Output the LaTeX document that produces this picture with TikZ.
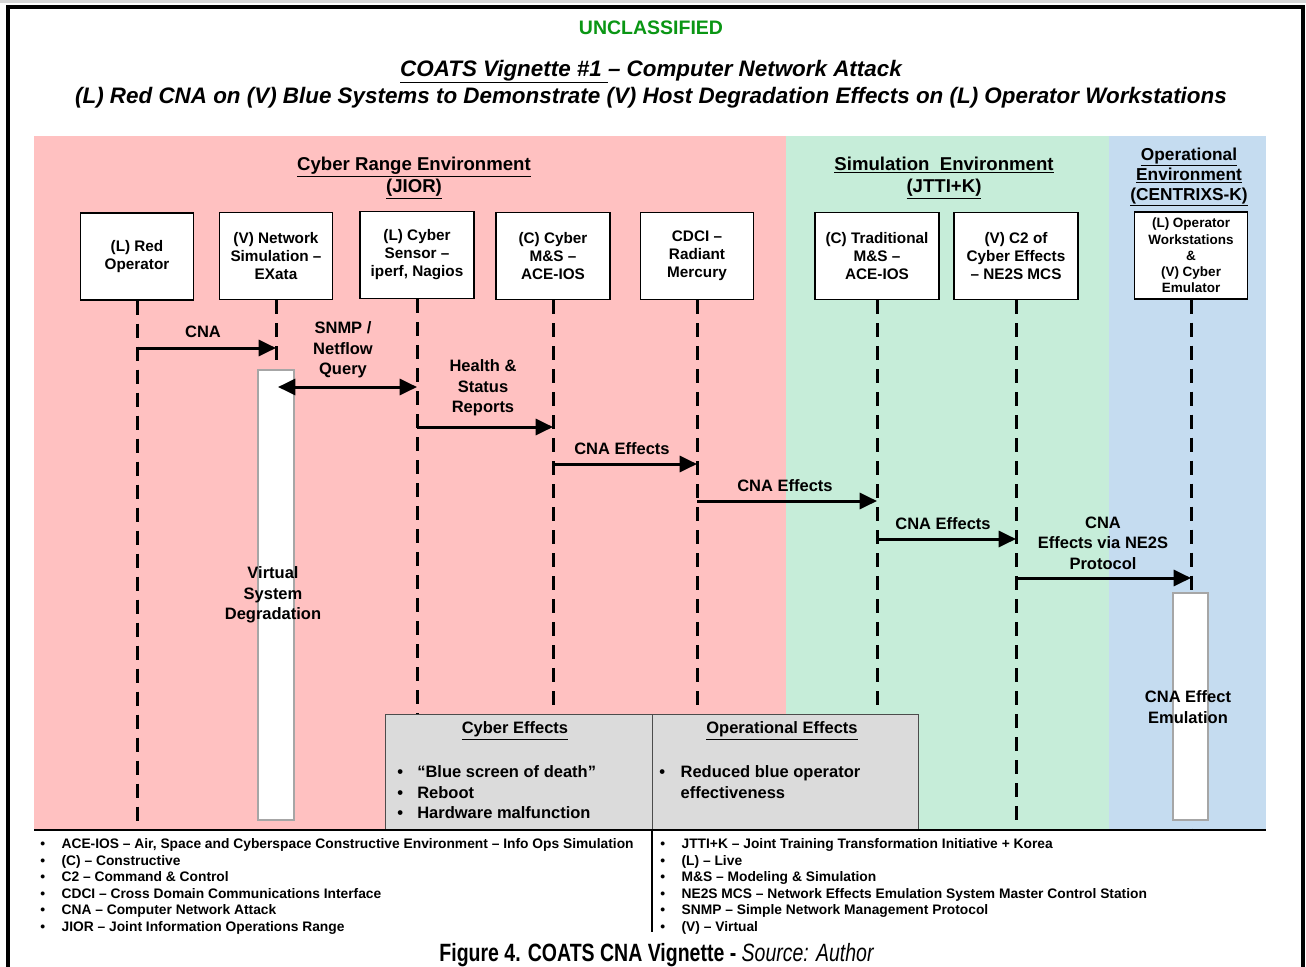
\documentclass[tikz,border=0pt]{standalone}
\usepackage{fontspec}
\setmainfont{Liberation Sans}
\newfontfamily\capfont[FakeStretch=0.78]{Liberation Sans}
\usetikzlibrary{arrows.meta}
% font size and baseline skip given in pixels (1px = 0.75pt)
\newcommand\pxf[2]{\fontsize{\fpeval{#1*0.75}pt}{\fpeval{#2*0.75}pt}\selectfont}
\newcommand\blt{\makebox[15pt][l]{\textbullet}}
\newcommand\lblt{\makebox[16pt][l]{\textbullet}}
\definecolor{rangebg}{RGB}{255,193,193}
\definecolor{simbg}{RGB}{198,237,217}
\definecolor{opbg}{RGB}{197,220,240}
\definecolor{effbg}{RGB}{219,219,219}
\definecolor{unclass}{RGB}{10,150,20}
\definecolor{topstrip}{RGB}{214,214,214}
\begin{document}
\begin{tikzpicture}[x=0.75pt,y=-0.75pt,
  hostbox/.style={draw, line width=1.1pt, fill=white, align=center, inner sep=0pt,
    minimum height=65pt, minimum width=84.75pt, font=\bfseries\pxf{15.3}{18}},
  lifeline/.style={line width=2.25pt, dash pattern=on 10.5pt off 6.75pt},
  msg/.style={line width=2.25pt, -{Triangle[length=13pt,width=12pt]}},
  msgboth/.style={line width=2.25pt, {Triangle[length=13pt,width=12pt]}-{Triangle[length=13pt,width=12pt]}},
  lbl/.style={align=center, inner sep=0pt, font=\bfseries\pxf{16.5}{20.5}},
  hdr/.style={align=center, inner sep=0pt, font=\bfseries\pxf{18.6}{22}},
  actbar/.style={draw=black!35, line width=0.8pt, fill=white},
  effpanel/.style={draw=black!70, line width=0.8pt, fill=effbg, anchor=north west,
    minimum height=87pt, inner sep=0pt},
  legend/.style={anchor=north west, align=left, inner sep=0pt, font=\bfseries\pxf{13.8}{16.5}},
]
\useasboundingbox (0,0) rectangle (1306,967);
\fill[white] (0,0) rectangle (1306,967);
\fill[topstrip] (0,0) rectangle (1306,2.5);
% page frame, open at the bottom
\draw[line width=2.3pt] (8,967) -- (8,7) -- (1303,7) -- (1303,967);

% environment bands
\fill[rangebg] (34,136) rectangle (786,830);
\fill[simbg] (786,136) rectangle (1109,830);
\fill[opbg] (1109,136) rectangle (1266,830);

% headings
\node[font=\bfseries\pxf{19.5}{22}, text=unclass, anchor=base] (uncl) at (651,34) {UNCLASSIFIED};
\node[font=\bfseries\itshape\pxf{22.4}{26}, anchor=base] (t1) at (651,76)
  {\underline{COATS Vignette \#1\ }– Computer Network Attack};
\node[font=\bfseries\itshape\pxf{22.4}{26}, anchor=base] (t2) at (651,103)
  {(L) Red CNA on (V) Blue Systems to Demonstrate (V) Host Degradation Effects on (L) Operator Workstations};

\node[hdr] (hrange) at (414,178) {\underline{Cyber Range Environment}\\\underline{(JIOR)}};
\node[hdr] (hsim) at (944,178) {\underline{Simulation\ \ Environment}\\\underline{(JTTI+K)}};
\node[hdr, font=\bfseries\pxf{17.3}{20}] (hop) at (1189,177)
  {\underline{Operational}\\\underline{Environment}\\\underline{(CENTRIXS-K)}};

% participants
\node[hostbox] (ro) at (137,256.5) {(L) Red\\Operator};
\node[hostbox] (ns) at (276,256) {(V) Network\\Simulation –\\EXata};
\node[hostbox, minimum width=85.5pt] (cs) at (417,255) {(L) Cyber\\Sensor –\\iperf, Nagios};
\node[hostbox, minimum width=85.5pt] (cm) at (553,256) {(C) Cyber\\M\&S –\\ACE-IOS};
\node[hostbox] (cd) at (697,256) {CDCI –\\Radiant\\Mercury};
\node[hostbox, minimum width=93pt] (tm) at (877,256) {(C) Traditional\\M\&S –\\ACE-IOS};
\node[hostbox, minimum width=93pt] (c2) at (1016,256) {(V) C2 of\\Cyber Effects\\– NE2S MCS};
\node[hostbox, font=\bfseries\pxf{13.5}{16.3}] (ow) at (1191,255.5)
  {(L) Operator\\Workstations\\\&\\(V) Cyber\\Emulator};

% lifelines
\foreach \p in {ro,ns,cs,cm,cd,tm,c2,ow}
  \draw[lifeline] (\p.south) -- (\p.south |- 0,830);

% activation bars
\fill[actbar] (258,370) rectangle (294,820);
\draw[actbar] (258,370) rectangle (294,820);
\fill[actbar] (1173,593) rectangle (1208,820);
\draw[actbar] (1173,593) rectangle (1208,820);

% messages
\draw[msg] (ro |- 0,348) -- (ns |- 0,348);
\node[lbl] (lcna) at (203,332) {CNA};
\draw[msgboth] ([xshift=1.5pt]ns |- 0,387) -- (cs |- 0,387);
\node[lbl] (lsnmp) at (343,350) {SNMP /\\Netflow\\Query};
\draw[msg] (cs |- 0,427) -- (cm |- 0,427);
\node[lbl] (lhealth) at (483,388) {Health \&\\Status\\Reports};
\draw[msg] (cm |- 0,464) -- (cd |- 0,464);
\node[lbl] (le1) at (622,449) {CNA Effects};
\draw[msg] (cd |- 0,501) -- (tm |- 0,501);
\node[lbl] (le2) at (785,486) {CNA Effects};
\draw[msg] (tm |- 0,539) -- (c2 |- 0,539);
\node[lbl] (le3) at (943,524) {CNA Effects};
\draw[msg] (c2 |- 0,578) -- (ow |- 0,578);
\node[lbl] (le4) at (1103,543) {CNA\\Effects via NE2S\\Protocol};

\node[lbl] (lvirt) at (273,595) {Virtual\\System\\Degradation};
\node[lbl] (lemul) at (1188,707) {CNA Effect\\Emulation};

% effects panels
\node[effpanel, minimum width=200.25pt] (cyeff) at (385,714) {};
\node[effpanel, minimum width=199.5pt] (opeff) at (652,714) {};
\node[lbl] (hcy) at (515,731) {\underline{Cyber Effects}};
\node[lbl] (hopf) at (782,731) {\underline{Operational Effects}};
\node[lbl, align=left, anchor=west] (lcy) at (397,792.5)
  {\blt “Blue screen of death”\\\blt Reboot\\\blt Hardware malfunction};
\node[lbl, align=left, anchor=west] (lop) at (659,782)
  {\lblt Reduced blue operator\\\makebox[16pt]{}effectiveness};

% glossary
\draw[line width=1.1pt] (34,830) -- (1266,830);
\draw[line width=1pt] (652,830) -- (652,932);
\node[legend] (gl) at (40,838.5)
  {\lblt ACE-IOS – Air, Space and Cyberspace Constructive Environment – Info Ops Simulation\\
   \lblt (C) – Constructive\\
   \lblt C2 – Command \& Control\\
   \lblt CDCI – Cross Domain Communications Interface\\
   \lblt CNA – Computer Network Attack\\
   \lblt JIOR – Joint Information Operations Range};
\node[legend] (gr) at (660,838.5)
  {\lblt JTTI+K – Joint Training Transformation Initiative + Korea\\
   \lblt (L) – Live\\
   \lblt M\&S – Modeling \& Simulation\\
   \lblt NE2S MCS – Network Effects Emulation System Master Control Station\\
   \lblt SNMP – Simple Network Management Protocol\\
   \lblt (V) – Virtual};

% caption
\node[font=\capfont\pxf{25}{30}, anchor=base] (cap) at (656.5,961)
  {\bfseries Figure 4. COATS CNA Vignette - \mdseries\itshape Source: Author};
\end{tikzpicture}
\end{document}
